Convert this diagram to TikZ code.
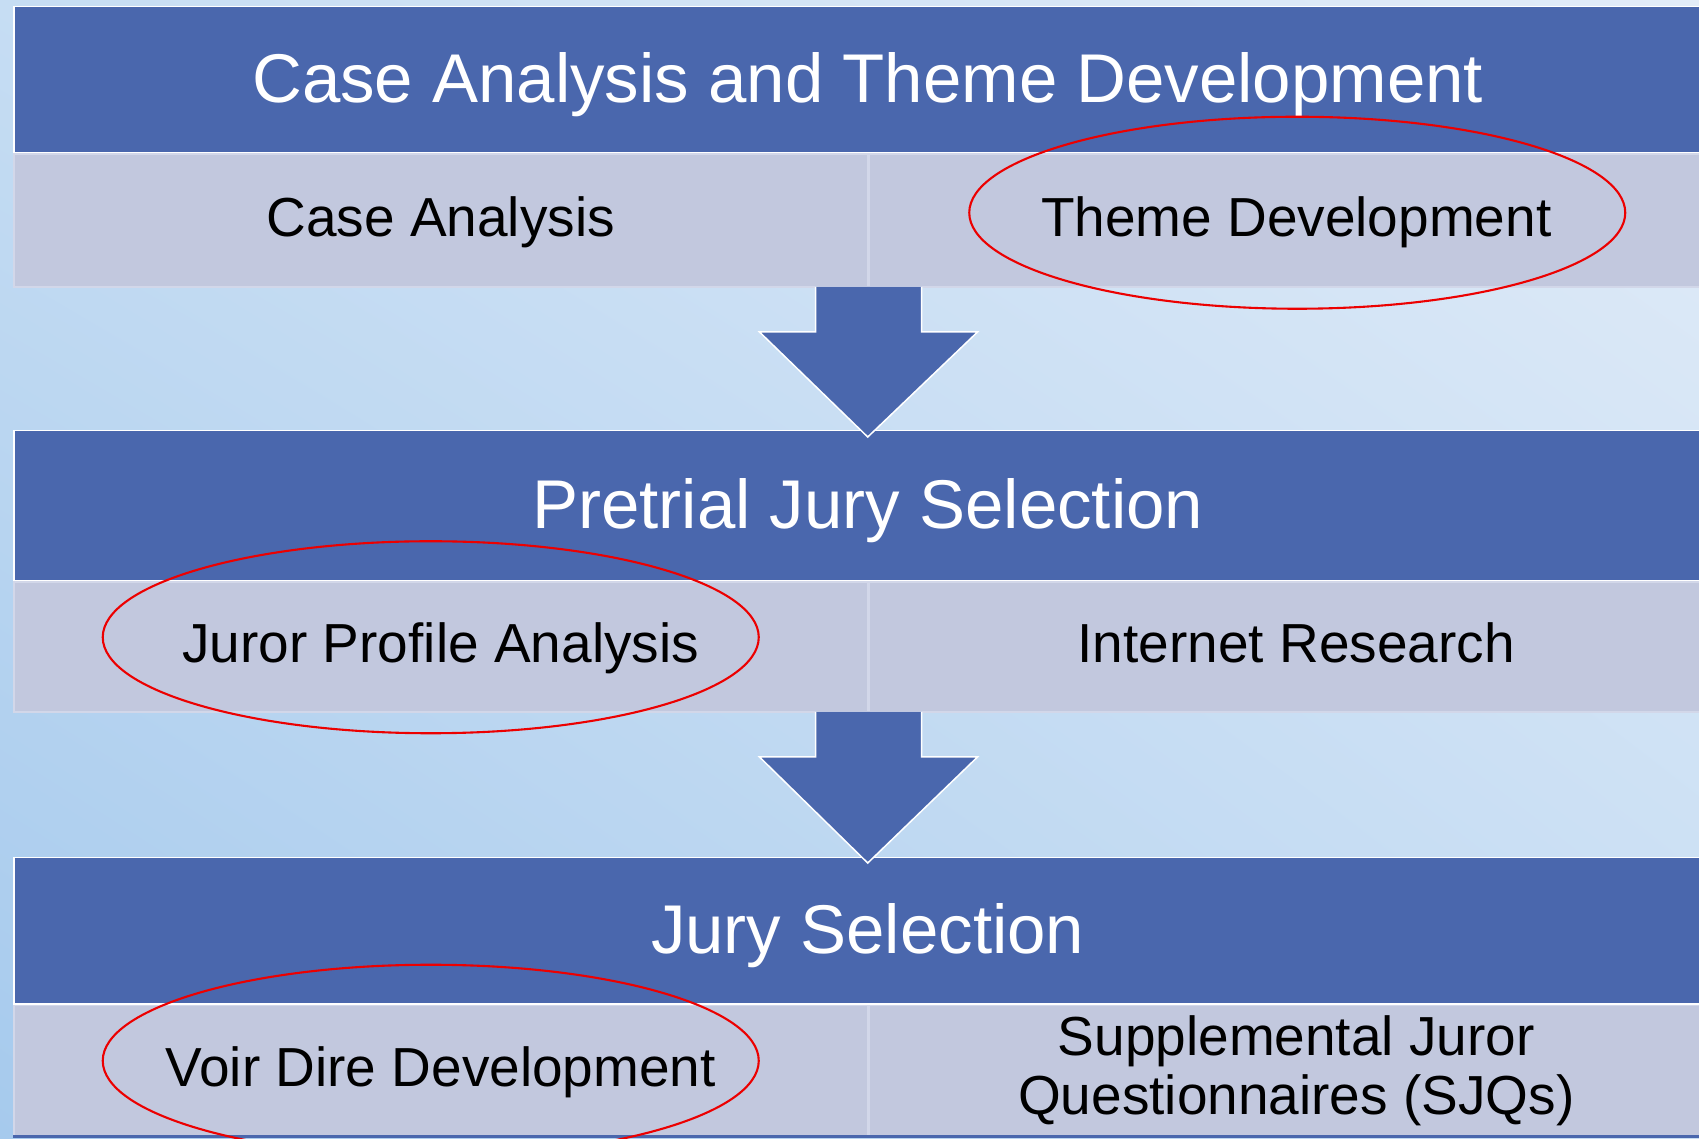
\documentclass[tikz,border=0pt]{standalone}
\usepackage{fontspec}
\setmainfont{Liberation Sans}
\usetikzlibrary{calc,shadings}
\definecolor{bandblue}{RGB}{74,103,173}
\definecolor{cellgrey}{RGB}{194,200,222}
\definecolor{cellline}{RGB}{210,215,233}
\definecolor{bgdark}{RGB}{166,202,237}
\definecolor{bgmid}{RGB}{198,221,243}
\definecolor{bglight}{RGB}{226,236,248}
\definecolor{ringred}{RGB}{236,0,0}
\tikzset{
	titlebar/.style={fill=bandblue, draw=white, line width=1.5pt, text=white, anchor=north west, minimum width=1708pt, inner sep=0pt, font=\fontsize{69}{80}\selectfont, text height=50pt, text depth=4pt},
	cell/.style={fill=cellgrey, draw=cellline, line width=1.5pt, anchor=north west, minimum width=854pt, inner sep=0pt, font=\fontsize{55}{59}\selectfont},
	oneline/.style={text height=39pt, text depth=8pt},
	arrowbody/.style={fill=bandblue, draw=white, line width=1.5pt, line join=miter},
	ring/.style={draw=ringred, line width=2.1pt},
}
\def\flowarrow(#1)(#2){\draw[arrowbody] ($(#1)+(-53,1)$) -- ++(0,-45) -- ++(-56,0) -- (#2) -- ($(#1)+(109,-44)$) -- ++(-56,0) -- ++(0,45);}

\begin{document}
\begin{tikzpicture}[x=1pt,y=1pt]
			%%%%% START %%%%%
			
			\clip (0,0) rectangle (1699,1138);
			\shade[lower left=bgdark, upper left=bgmid, upper right=bglight, lower right=bgmid] (0,0) rectangle (1699,1138);
			
			% step 1
			\node[titlebar, minimum height=146pt] (t1) at (13,1132) {Case Analysis and Theme Development};
			\node[cell, oneline, minimum height=133pt] (c1a) at (t1.south west) {Case Analysis};
			\node[cell, oneline, minimum height=133pt] (c1b) at (c1a.north east) {Theme Development};
			
			% step 2
			\node[titlebar, minimum height=150pt] (t2) at (13,708) {Pretrial Jury Selection};
			\node[cell, oneline, minimum height=130pt] (c2a) at (t2.south west) {Juror Profile Analysis};
			\node[cell, oneline, minimum height=130pt] (c2b) at (c2a.north east) {Internet Research};
			
			% step 3
			\node[titlebar, minimum height=146pt] (t3) at (13,281) {Jury Selection};
			\node[cell, oneline, minimum height=131pt] (c3a) at (t3.south west) {Voir Dire Development};
			\node[cell, minimum height=131pt, align=center] (c3b) at (c3a.north east) {Supplemental Juror\\Questionnaires (SJQs)};
			
			\fill[bandblue] (13,0) rectangle (1721,3);
			
			% arrows between the steps
			\coordinate (tip1) at ($(t2.north)+(0,-7)$);
			\coordinate (tip2) at ($(t3.north)+(0,-6)$);
			\flowarrow(c1a.south east)(tip1)
			\flowarrow(c2a.south east)(tip2)
			
			% red rings
			\draw[ring] ($(c1b)+(1,8)$) ellipse [x radius=328pt, y radius=96pt];
			\draw[ring] ($(c2a)+(-10,10)$) ellipse [x radius=328pt, y radius=96pt];
			\draw[ring] ($(c3a)+(-10,10)$) ellipse [x radius=328pt, y radius=96pt];
			
			%%%%% END %%%%%
\end{tikzpicture}
\end{document}
